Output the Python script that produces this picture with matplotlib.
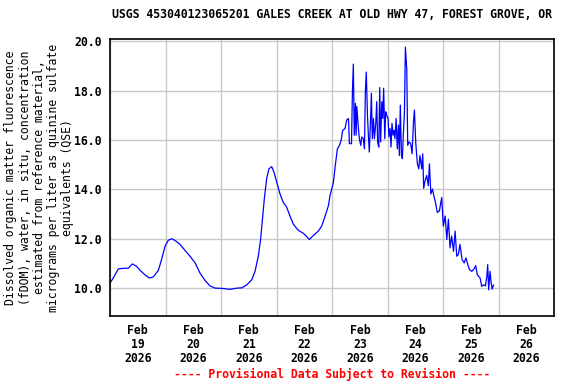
import pandas as pd
import matplotlib
matplotlib.use('Agg')
import matplotlib.pyplot as plt
import matplotlib.dates as mdates

title = 'USGS 453040123065201 GALES CREEK AT OLD HWY 47, FOREST GROVE, OR'
ylabel = ('Dissolved organic matter fluorescence\n'
          '(fDOM), water, in situ, concentration\n'
          'estimated from reference material,\n'
          'micrograms per liter as quinine sulfate\n'
          'equivalents (QSE)')
footer = '---- Provisional Data Subject to Revision ----'
start = '2026-02-19'

# hours since Feb 19 00:00
hours = [0.0, 1.4, 3.6, 5.8, 7.9, 9.7, 11.5, 13.0, 15.1, 17.0, 18.7, 20.9,
         22.3, 23.8, 25.2, 26.7, 28.1, 30.3, 32.4, 34.6, 36.8, 38.9, 41.1,
         43.2, 45.4, 48.3, 51.9, 54.8, 56.9, 59.1, 61.3, 62.7, 64.1, 65.1,
         65.9, 66.7, 67.7, 68.7, 69.9, 70.9, 72.1, 73.5, 74.9, 76.4, 77.8,
         79.3, 81.4, 83.6, 85.1, 86.2, 87.9, 90.1, 91.5, 93.0, 94.4,
         95.1, 96.6, 97.3, 98.3, 99.2, 99.9, 100.6, 101.6, 102.3, 103.1,
         103.5, 104.4, 104.8, 105.2, 105.6, 106.1, 106.4, 106.7, 107.4,
         107.8, 108.4, 108.8, 109.5, 110.0, 110.4, 110.8, 111.3, 111.7,
         112.1, 112.6, 113.0, 113.4, 113.9, 114.3, 114.9, 115.3, 115.7,
         116.2, 116.6, 117.0, 117.5, 117.9, 118.3, 118.8, 119.2, 119.6,
         120.2, 120.6, 121.1, 121.5, 121.9, 122.4, 122.8, 123.2, 123.7,
         124.2, 124.7, 125.1, 125.5, 126.0, 126.4, 126.8, 127.3, 127.7,
         128.3, 128.7, 129.3, 130.0, 130.6, 131.2, 131.6, 132.2, 132.9,
         133.5, 134.0, 134.8, 135.2, 135.6, 136.2, 136.9, 137.6, 138.1,
         138.7, 139.4, 140.0, 140.7, 141.5, 142.4, 143.4, 144.1, 144.9,
         145.6, 146.3, 147.0, 147.7, 148.5, 149.2, 149.9, 150.6, 151.3,
         152.2, 153.1, 153.9, 154.7, 155.4, 156.4, 157.4, 158.1, 158.8,
         160.0, 160.7, 161.4, 162.3, 162.9, 163.3, 163.7, 164.3, 164.8,
         165.2, 165.8]
fdom = [10.20, 10.41, 10.78, 10.80, 10.81, 10.98, 10.88, 10.72, 10.54, 10.41,
        10.45, 10.72, 11.16, 11.70, 11.94, 12.00, 11.93, 11.77, 11.53, 11.29,
        11.02, 10.61, 10.31, 10.09, 10.00, 9.99, 9.95, 10.00, 10.01, 10.13,
        10.34, 10.68, 11.29, 11.97, 12.79, 13.60, 14.42, 14.83, 14.92, 14.69,
        14.29, 13.81, 13.47, 13.27, 12.92, 12.58, 12.34, 12.22, 12.08, 11.97,
        12.13, 12.31, 12.51, 12.92, 13.33,
        13.74, 14.29, 14.90, 15.64, 15.78, 15.98, 16.39, 16.46, 16.80, 16.87,
        15.85, 15.85, 17.96, 19.07, 16.19, 17.48, 16.19, 17.35, 16.46,
        16.05, 15.78, 16.12, 16.05, 15.64, 17.96, 18.75, 17.00, 16.19,
        15.51, 16.73, 17.89, 16.05, 16.87, 16.05, 16.67, 17.55, 15.92,
        15.71, 18.12, 15.92, 17.55, 16.87, 18.09, 16.05, 17.14, 17.00,
        16.87, 16.12, 16.46, 15.71, 16.67, 16.19, 16.39, 16.05, 16.87,
        15.64, 16.60, 15.37, 17.41, 15.37, 15.24, 16.19, 17.14, 19.76,
        18.84, 15.78, 15.92, 15.85, 15.44, 16.73, 17.21, 15.85, 15.03,
        14.83, 15.37, 14.83, 15.44, 14.04, 14.35, 14.56, 14.15, 15.03,
        13.81, 14.01, 13.74, 13.47, 13.06, 13.13, 13.67, 12.51, 12.92,
        11.97, 12.79, 11.63, 12.11, 11.49, 12.31, 11.29, 11.36, 11.77,
        11.16, 11.02, 11.22, 10.95, 10.75, 10.68, 10.78, 10.91, 10.54,
        10.41, 10.07, 10.13, 10.09, 10.47, 10.95, 9.93, 10.68, 10.20,
        9.96, 10.12]

yticks = [10, 12, 14, 16, 18, 20]

times = pd.Timestamp(start) + pd.to_timedelta(hours, unit='h')

plt.rcParams['font.family'] = 'DejaVu Sans Mono'
plt.rcParams['font.weight'] = 'bold'
plt.rcParams['font.size'] = 8.3
plt.rcParams['axes.titlesize'] = 8.3
plt.rcParams['axes.labelsize'] = 8.3

fig = plt.figure(figsize=(5.76, 3.84), dpi=100)
ax = fig.add_axes([0.191, 0.177, 0.771, 0.721])

ax.plot(times, fdom, color='#0000ff', linewidth=0.9)

ax.set_xlim(pd.Timestamp(start), pd.Timestamp(start) + pd.Timedelta(days=8))
ax.set_ylim(8.87, 20.08)

ax.xaxis.set_major_locator(mdates.DayLocator())
ax.xaxis.set_major_formatter(plt.NullFormatter())
ax.xaxis.set_minor_locator(mdates.HourLocator(byhour=[12]))
ax.xaxis.set_minor_formatter(mdates.DateFormatter('%b\n%d\n%Y'))
ax.set_yticks(yticks)
ax.set_yticklabels(['%.1f' % v for v in yticks])

ax.tick_params(axis='both', which='both', length=0)
ax.tick_params(axis='y', pad=6)
ax.tick_params(axis='x', which='minor', pad=5.5)
for lab in ax.get_xticklabels(minor=True):
    lab.set_linespacing(1.12)

ax.grid(True, which='major', color='#c8c8c8', linewidth=1)
ax.set_axisbelow(True)
for s in ax.spines.values():
    s.set_linewidth(1.2)
    s.set_color('black')

ax.set_ylabel(ylabel, linespacing=1.12, labelpad=0)
ax.set_title(title, fontweight='bold', pad=15)
fig.text(0.576, 0.008, footer, color='red', ha='center', va='bottom')

fig.savefig('out.png', dpi=100)
